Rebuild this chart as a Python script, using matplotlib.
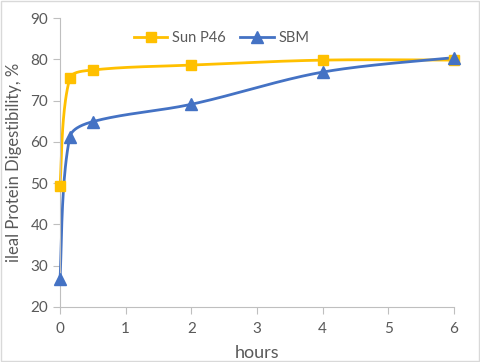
import numpy as np
import matplotlib
matplotlib.use("Agg")
import matplotlib.pyplot as plt
from matplotlib.lines import Line2D

plt.rcParams['font.family'] = ['Lato', 'DejaVu Sans']

hours = [0, 0.15, 0.5, 2, 4, 6]
sun_p46 = [49.4, 75.4, 77.4, 78.6, 79.8, 79.8]
sbm = [26.8, 61.2, 64.9, 69.1, 76.9, 80.4]

GOLD = '#FFC000'
BLUE = '#4472C4'
GREY = '#595959'

# pixels per data unit, so the smoothing works in screen space
SX, SY = 394 / 6, 289 / 70


def smooth(x, y, n=40):
    # smoothed line like Excel: bezier segments, tangent split by chord length
    p = np.column_stack([np.asarray(x, float) * SX, np.asarray(y, float) * SY])
    m = len(p)
    d = np.hypot(*np.diff(p, axis=0).T)
    tang = np.array([p[min(i + 1, m - 1)] - p[max(i - 1, 0)] for i in range(m)])
    t = np.linspace(0, 1, n)[:, None]
    out = []
    for i in range(m - 1):
        p0, p3 = p[i], p[i + 1]
        dl = d[i - 1] if i > 0 else d[i]
        dr = d[i + 1] if i + 1 < m - 1 else d[i]
        p1 = p0 + tang[i] * d[i] / (dl + d[i]) / 3
        p2 = p3 - tang[i + 1] * d[i] / (d[i] + dr) / 3
        b = (1 - t) ** 3 * p0 + 3 * (1 - t) ** 2 * t * p1 + 3 * (1 - t) * t ** 2 * p2 + t ** 3 * p3
        out.append(b)
    out = np.vstack(out)
    return out[:, 0] / SX, out[:, 1] / SY


fig = plt.figure(figsize=(4.8, 3.62), dpi=100)
ax = fig.add_axes([60 / 480, 1 - 307 / 362, 394 / 480, 289 / 362])

sx, sy = smooth(hours, sun_p46)
ax.plot(sx, sy, color=GOLD, lw=2, zorder=2, clip_on=False)
ax.plot(hours, sun_p46, ls='none', marker='s', ms=7, color=GOLD, zorder=3, clip_on=False)

bx, by = smooth(hours, sbm)
ax.plot(bx, by, color=BLUE, lw=2, zorder=2, clip_on=False)
ax.plot(hours, sbm, ls='none', marker='^', ms=8, color=BLUE, zorder=4, clip_on=False)

ax.set_xlim(0, 6)
ax.set_ylim(20, 90)
ax.set_xticks(range(0, 7))
ax.set_yticks(range(20, 91, 10))
for s in ['top', 'right']:
    ax.spines[s].set_visible(False)
for s in ['left', 'bottom']:
    ax.spines[s].set_color('#BFBFBF')
ax.tick_params(colors='#BFBFBF', labelcolor=GREY, labelsize=11, length=5)
ax.tick_params(axis='x', pad=6)
ax.set_xlabel('hours', color=GREY, fontsize=13, labelpad=6)
ax.set_ylabel('ileal Protein Digestibility, %', color=GREY, fontsize=12, labelpad=6)

handles = [Line2D([], [], color=GOLD, lw=2, marker='s', ms=7),
           Line2D([], [], color=BLUE, lw=2, marker='^', ms=8)]
ax.legend(handles, ['Sun P46', 'SBM'], loc='upper center', bbox_to_anchor=(0.41, 1.0),
          ncol=2, frameon=False, fontsize=10.5, labelcolor=GREY, handlelength=2.3,
          columnspacing=1.0, handletextpad=0.3)

fig.patches.append(plt.Rectangle((0.002, 0.003), 0.995, 0.994, transform=fig.transFigure,
                                 fill=False, edgecolor='#D9D9D9', lw=1))
fig.savefig('out.png', dpi=100)
